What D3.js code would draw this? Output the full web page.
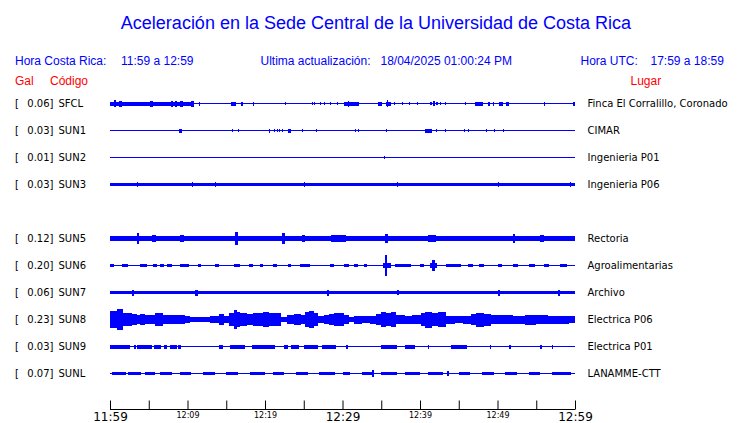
<!DOCTYPE html>
<html><head><meta charset="utf-8">
<script src="https://cdn.jsdelivr.net/npm/d3@7"></script>
<style>body{margin:0;background:#fff}svg{display:block}</style>
</head><body><svg id="c" width="740" height="423"></svg>
<script>
// ---------- DATA ----------
const titleText = "Aceleración en la Sede Central de la Universidad de Costa Rica";
const localRange = "11:59 a 12:59";
const utcRange = "17:59 a 18:59";
const lastUpdate = "18/04/2025 01:00:24 PM";
// rows (null = empty slot)
const codes  = ["SFCL","SUN1","SUN2","SUN3",null,"SUN5","SUN6","SUN7","SUN8","SUN9","SUNL"];
const peaks  = ["0.06","0.03","0.01","0.03",null,"0.12","0.20","0.06","0.23","0.03","0.07"];
const places = ["Finca El Corralillo, Coronado","CIMAR","Ingenieria P01","Ingenieria P06",null,
                "Rectoria","Agroalimentarias","Archivo","Electrica P06","Electrica P01","LANAMME-CTT"];
const tickMinutes = d3.range(0, 61, 5);
const tickLabels = ["11:59","","12:09","","12:19","","12:29","","12:39","","12:49","","12:59"];
// envelope segments per trace: [startMinute, endMinute, amplitude]
const sfcl = [[0,10.8,1.5],[0.5,0.8,3],[1.1,1.5,2.5],[5.2,5.6,2.5],[7.9,8.1,2.5],[8.4,8.7,2.5],[9.0,9.4,2.5],[10.5,10.8,2.5],
  [11.45,11.65,1.5],[15.6,16.2,1.5],[16.95,17.1,1.5],[18.4,18.55,1.5],[22.55,22.7,1.2],[26.0,26.1,1.2],[26.3,26.4,1.2],
  [27.05,27.15,1.2],[27.65,27.75,1.2],[28.45,28.55,1.2],[29.25,29.35,1.2],[30.2,32.1,1.5],[30.7,30.9,2.5],[34.6,35.1,1.5],
  [35.55,36.3,1.5],[35.7,35.9,3],[36.65,36.75,1.2],[37.65,37.75,1.2],[38.55,38.65,1.2],[39.55,39.65,1.2],[41.25,41.5,1.2],
  [41.7,41.9,1.8],[42.1,42.3,1.2],[42.6,42.7,1.2],[43.25,43.35,1],[45.85,45.95,1],[47.1,48.15,1.5],[48.8,49.05,1.5],
  [49.4,49.5,1.5],[50.2,50.75,1.5],[51.1,51.5,1.5],[56.0,56.15,1.5],[59.8,60,1.5]];
const sun1 = [[8.85,9.3,1.5],[15.8,15.9,1],[16.55,16.65,1],[20.5,20.7,1.5],[21.1,21.2,1],[21.55,21.65,1],[21.75,21.85,1],
  [22.25,22.35,1],[23.0,23.3,1.5],[24.75,24.85,1],[26.6,26.7,1.2],[31.65,31.75,1.2],[32.05,32.15,1.2],[35.55,35.65,1.2],
  [40.65,41.5,1.5],[42.05,42.15,1],[43.25,43.35,1],[45.7,45.8,1],[46.15,46.25,1],[48.55,48.65,1],[49.55,49.65,1],[50.65,50.75,1]];
const sun2 = [[35.3,35.4,1]];
const sun3 = [[0,60,1.4],[3.5,3.6,1.9],[10.6,10.7,1.9],[13.5,13.6,1.9],[25,25.1,1.9],[37,37.1,1.9],[50,50.1,1.9],[59.3,59.4,1.9]];
const sun5 = [[0,60,2],[3.5,3.8,4.8],[5.4,5.9,3.3],[9.0,9.5,3.3],[16.1,16.5,6],[22.2,22.6,5.3],[24.8,25.1,3.3],
  [28.5,30.5,3],[35.5,35.9,4],[41,42,2.8],[52,52.3,3.8],[55.5,56,3.3]];
const sun6 = [[0,0.5,1.3],[1.5,2.3,1.3],[3.9,4.8,1.3],[5.6,6.1,1.3],[6.4,7,1.3],[7.4,8,1.3],[9,10.2,1.3],[11.3,11.8,1.3],
  [13.5,14,1.3],[16,16.8,1.3],[17.9,18.4,1.3],[19.4,19.8,1.3],[21,21.5,1.3],[23,23.3,1.3],[24.5,25.8,1.3],[28.4,28.9,1.3],
  [30.2,30.8,1.3],[31.5,32,1.3],[32.8,33.2,1.3],[35.2,36.2,2],[35.45,35.75,10],[36.8,38.8,1.3],[40,40.5,1.3],[41.3,42.2,2],
  [41.6,41.9,5],[43.3,45.3,1.3],[46.2,46.8,1.3],[47.6,48.2,1.3],[50,50.6,1.3],[52,52.6,1.3],[54,54.8,1.3],[56,56.6,1.3],[58,59,1.3]];
const sun7 = [[0,60,1.1],[2.8,3.1,2.5],[11,11.3,2.5],[28,28.3,2.5],[37,37.3,2.2],[50,50.3,2.5],[57.8,58.1,2.5]];
// SUN8 envelope: [minute, amplitude]
const sun8 = [[0,8],[0.86,9.7],[1.7,6.3],[2.4,5.7],[2.8,5],[3.45,4],[3.9,5],[4.5,4],[5.2,4.3],[5.8,5.7],[6.25,6.3],[6.9,4.3],
  [7.55,4.3],[8.2,3.7],[9.05,4],[9.7,3],[10.3,2.3],[11.6,2.3],[12.9,2.7],[14.0,5],[14.65,3.3],[15.3,6.3],[15.95,9],[16.4,7.3],
  [16.8,5.7],[17.7,5],[18.5,5.7],[19.2,6.3],[19.8,7.3],[20.5,6.3],[21.1,5.7],[22.0,2.3],[22.85,4],[23.7,5],[24.6,4],[25.2,7.3],
  [25.65,8],[26.3,5.7],[26.9,3],[27.6,4],[28.2,5],[28.9,6.3],[29.5,5.7],[30.2,4],[30.8,2.3],[31.5,3.5],[32.5,3],[33.5,3.5],
  [34.3,5],[35.0,7],[35.6,6],[36.2,7],[36.9,4],[38,3.5],[39,4],[40.1,6],[40.7,7.5],[41.5,6],[42.3,7],[43.3,3.5],[44.5,3],
  [45.5,3.5],[46.6,5],[47.2,6.5],[48.2,5.5],[49.1,4],[50.5,4],[52,3.5],[53.5,4.5],[55,4],[56.5,3.5],[58,3.5],[59.2,3],[60,3]];
const sun9 = [[0,2.6,1.5],[3.1,3.3,1.5],[3.5,5.4,1.5],[5.7,6.6,1.5],[7,7.3,1.5],[7.7,8.7,1.5],[8.8,9.1,1.5],[14,14.6,1.5],
  [15.5,17.4,1.5],[18.3,21.3,1.5],[22.5,23,1.5],[23.4,24.4,1.5],[25,26.8,1.5],[27.4,29.2,1.5],[30.5,30.7,1.5],[35,37,1.5],
  [38,39.4,1.5],[41,41.2,1.5],[44,46,1.5],[49,49.2,1.5],[51.5,51.7,1.5],[55.5,55.7,1.5],[57,57.2,1.5]];
const sunl = [[0.3,2,1.2],[2.3,4,1.2],[4.5,5.8,1.2],[6.5,8,1.2],[9,10.5,1.2],[12,13.5,1.2],[15,16.5,1.2],[18,20,1.2],
  [21,22.5,1.2],[24,25.5,1.2],[27,29,1.2],[30,31,1.2],[32.5,34,1.2],[33.8,34.1,3],[35,37,1.2],[38,40,1.2],[41,43,1.2],
  [43.5,43.8,2],[45,46.5,1.2],[48,49.5,1.2],[51,52.5,1.2],[54,55.5,1.2],[57,59.5,1.2]];
const traces = [sfcl, sun1, sun2, sun3, null, sun5, sun6, sun7, null, sun9, sunl];
const envelopes = [null, null, null, null, null, null, null, null, sun8, null, null];

// ---------- DRAW ----------
const blue = "#0000ff", red = "#ff0000";
const svg = d3.select("#c");
const x = d3.scaleLinear().domain([0, 60]).range([110, 575]);
const y = d3.scaleLinear().domain([0, 10]).range([103, 373]);
const amp = d3.scaleLinear().domain([0, 10]).range([0, 10]);
const sans = "'Liberation Sans', Arial, sans-serif";
const dv = "'DejaVu Sans', sans-serif";

svg.append("text").attr("x", 376).attr("y", 29).attr("text-anchor", "middle")
  .attr("font-family", sans).attr("font-size", 18).attr("fill", blue).text(titleText);

const hdr = [["Hora Costa Rica:",15],[localRange,121],["Ultima actualización:",260.5],[lastUpdate,380.5],["Hora UTC:",580.5],[utcRange,650.5]];
svg.selectAll("text.hdr").data(hdr).join("text").attr("class","hdr")
  .attr("x", d => d[1]).attr("y", 65).attr("font-family", sans).attr("font-size", 12).attr("fill", blue).text(d => d[0]);
const red2 = [["Gal",15],["Código",50],["Lugar",630.5]];
svg.selectAll("text.red").data(red2).join("text").attr("class","red")
  .attr("x", d => d[1]).attr("y", 84.5).attr("font-family", sans).attr("font-size", 12).attr("fill", red).text(d => d[0]);

const rows = codes.map((c, i) => ({c, i, peak: peaks[i], place: places[i], segs: traces[i], env: envelopes[i]})).filter(d => d.c);
const g = svg.selectAll("g.row").data(rows).join("g").attr("class","row");
g.append("text").attr("x", 15).attr("y", d => y(d.i) + 4).attr("font-family", dv).attr("font-size", 10).text("[");
g.append("text").attr("x", 53.5).attr("y", d => y(d.i) + 4).attr("text-anchor","end").attr("font-family", dv).attr("font-size", 10).text(d => d.peak + "]");
g.append("text").attr("x", 58.5).attr("y", d => y(d.i) + 4).attr("font-family", dv).attr("font-size", 10).text(d => d.c);
g.append("text").attr("x", 587.5).attr("y", d => y(d.i) + 4).attr("font-family", dv).attr("font-size", 10).text(d => d.place);
g.append("line").attr("x1", x(0)).attr("x2", x(60)).attr("y1", d => y(d.i) + 0.5).attr("y2", d => y(d.i) + 0.5)
  .attr("stroke", blue).attr("stroke-width", 1);
g.each(function(d) {
  const sel = d3.select(this);
  if (d.segs) {
    sel.selectAll("rect").data(d.segs).join("rect")
      .attr("x", s => x(s[0])).attr("width", s => Math.max(1, x(s[1]) - x(s[0])))
      .attr("y", s => y(d.i) - amp(s[2])).attr("height", s => 2 * amp(s[2]) + 1)
      .attr("fill", blue).attr("shape-rendering", "crispEdges");
  }
  if (d.env) {
    const area = d3.area().curve(d3.curveStepAfter).x(p => x(p[0]))
      .y0(p => y(d.i) - amp(p[1])).y1(p => y(d.i) + 1 + amp(p[1]));
    sel.append("path").attr("d", area(d.env)).attr("fill", blue).attr("shape-rendering", "crispEdges");
  }
});

// axis
const axis = d3.axisBottom(x).tickValues(tickMinutes).tickSize(-9).tickPadding(3).tickFormat((d, i) => tickLabels[i]);
const ax = svg.append("g").attr("transform", "translate(0,409.5)").call(axis);
ax.select(".domain").attr("d", `M${x(0)},0H${x(60)}`).attr("stroke", "#000");
ax.selectAll(".tick line").attr("stroke", "#000");
ax.selectAll(".tick text").attr("font-family", dv).attr("fill", "#000")
  .attr("font-size", (d, i) => (i % 6 === 0 ? 12 : 8))
  .attr("y", (d, i) => (i % 6 === 0 ? 11.5 : 8.5)).attr("dy", 0);
</script></body></html>
